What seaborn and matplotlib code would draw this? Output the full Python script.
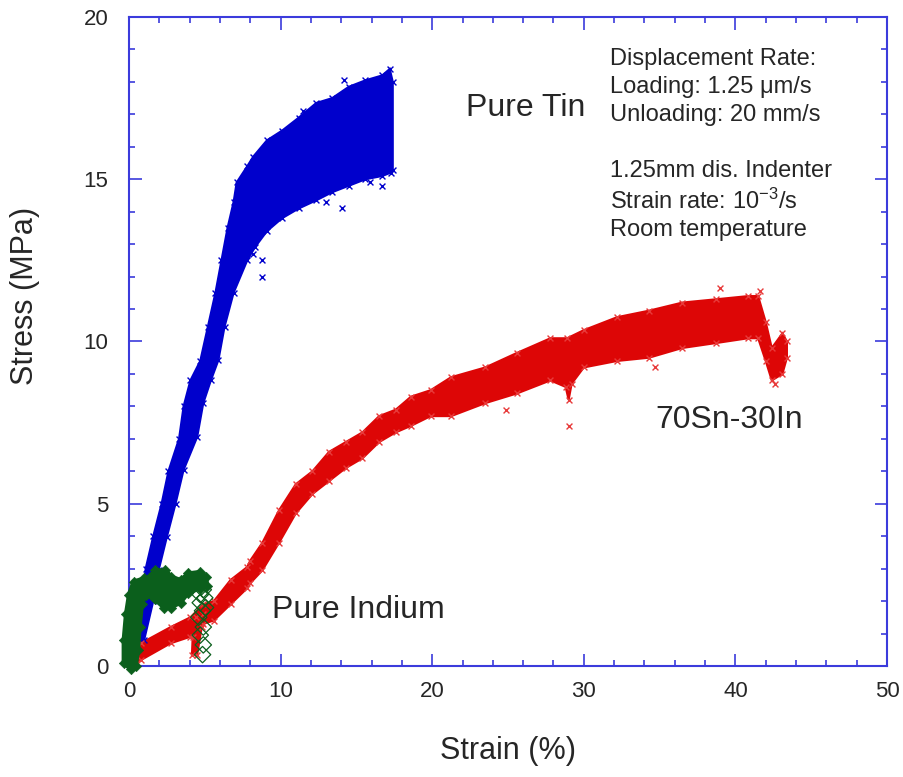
import matplotlib
matplotlib.use("Agg")
import matplotlib.pyplot as plt
from matplotlib.ticker import MultipleLocator
import pandas as pd
import seaborn as sns

# ---------------------------------------------------------------- data
# Pure tin: envelope of the scattered stress-strain cloud (strain %, stress MPa)
tin_upper_strain = [0.0, 0.6, 0.9, 1.1, 1.6, 2.15, 2.6, 3.3, 3.6, 4.05, 4.7, 5.2, 5.7,
                    6.1, 6.5, 6.9, 7.1, 7.8, 8.2, 9.1, 10.1, 11.2, 12.35, 13.4, 14.5,
                    15.6, 16.7, 17.2, 17.4]
tin_upper_stress = [0.0, 1.0, 2.0, 3.0, 4.0, 5.0, 6.0, 7.0, 8.0, 8.8, 9.4, 10.45, 11.5,
                    12.5, 13.5, 14.3, 14.9, 15.4, 15.7, 16.2, 16.5, 16.9, 17.35, 17.5,
                    17.85, 18.05, 18.2, 18.4, 18.0]
tin_lower_strain = [0.3, 1.0, 1.6, 1.96, 2.5, 3.07, 3.6, 4.5, 4.9, 5.4, 5.9, 6.3, 6.9,
                    7.8, 8.3, 9.1, 10.1, 11.2, 12.35, 13.4, 14.5, 15.6, 16.7, 17.25, 17.4]
tin_lower_stress = [0.0, 0.8, 2.0, 2.96, 3.98, 5.0, 6.04, 7.06, 8.1, 8.8, 9.43, 10.45,
                    11.5, 12.5, 12.9, 13.4, 13.8, 14.1, 14.35, 14.6, 14.8, 15.0, 15.1,
                    15.2, 15.3]
tin_stray_strain = [8.75, 8.75, 8.2, 14.05, 14.2, 11.45, 16.7, 15.9, 13.0]
tin_stray_stress = [12.5, 12.0, 12.7, 14.1, 18.05, 17.1, 14.8, 14.9, 14.3]

# 70Sn-30In
snin_upper_strain = [0.5, 0.78, 2.75, 4.05, 4.9, 5.6, 6.7, 7.8, 8.0, 8.8, 9.9, 11.0,
                     12.1, 13.2, 14.3, 15.4, 16.5, 17.6, 18.6, 19.9, 21.25, 23.5, 25.6,
                     27.8, 28.9, 30.0, 32.2, 34.3, 36.5, 38.7, 40.85, 41.5, 42.0, 42.4,
                     43.1, 43.4]
snin_upper_stress = [0.5, 0.7, 1.2, 1.5, 1.9, 2.0, 2.65, 3.05, 3.25, 3.8, 4.8, 5.6, 6.0,
                     6.6, 6.9, 7.2, 7.7, 7.9, 8.3, 8.5, 8.9, 9.2, 9.65, 10.1, 10.1,
                     10.35, 10.75, 10.95, 11.2, 11.3, 11.4, 11.4, 10.6, 9.8, 10.25, 10.0]
snin_lower_strain = [0.5, 0.78, 2.75, 4.05, 4.9, 5.6, 6.7, 7.8, 8.0, 8.8, 9.9, 11.0,
                     12.1, 13.2, 14.3, 15.4, 16.5, 17.6, 18.6, 19.9, 21.25, 23.5, 25.6,
                     27.8, 28.8, 29.0, 29.2, 30.0, 32.2, 34.3, 36.5, 38.7, 40.85, 41.5,
                     42.0, 42.4, 43.1, 43.4]
snin_lower_stress = [0.1, 0.18, 0.7, 0.9, 1.3, 1.4, 1.9, 2.4, 2.55, 2.95, 3.8, 4.7, 5.3,
                     5.7, 6.1, 6.4, 6.9, 7.2, 7.4, 7.7, 7.7, 8.1, 8.4, 8.8, 8.6, 8.2,
                     8.7, 9.2, 9.4, 9.5, 9.8, 9.95, 10.1, 10.1, 9.4, 8.8, 9.0, 9.5]
snin_reload_strain = [4.15, 4.5, 4.8, 4.85, 4.4, 4.2]
snin_reload_stress = [0.35, 0.35, 1.2, 1.6, 1.5, 0.9]
snin_stray_strain = [29.0, 39.0, 34.7, 24.9, 41.6, 42.6]
snin_stray_stress = [7.4, 11.65, 9.2, 7.9, 11.55, 8.7]

# Pure indium: outline of the loading cloud, then the unloading points
indium_outline_strain = [0.1, -0.35, -0.35, -0.2, 0.0, 0.3, 1.0, 1.4, 1.7, 2.4, 2.8, 3.4,
                         3.9, 4.7, 5.1, 5.15, 4.7, 3.9, 3.4, 2.75, 2.3, 1.7, 1.1, 0.85,
                         0.7, 0.6, 0.45]
indium_outline_stress = [-0.1, 0.1, 0.8, 1.6, 2.2, 2.6, 2.7, 2.75, 2.95, 2.95, 2.75,
                         2.65, 2.85, 2.9, 2.75, 2.45, 2.4, 2.25, 1.95, 1.8, 1.8, 2.05,
                         2.2, 1.9, 1.2, 0.5, 0.0]
indium_unload_strain = [4.85, 4.9, 4.7, 4.9, 4.6, 4.85, 4.7, 4.7, 4.9, 5.0, 4.8, 5.05]
indium_unload_stress = [0.35, 0.65, 0.95, 1.2, 1.5, 1.7, 1.95, 2.2, 2.35, 2.1, 2.45, 1.8]

info_lines = ["Displacement Rate:", "Loading: 1.25 \u03bcm/s", "Unloading: 20 mm/s", "",
              "1.25mm dis. Indenter", "Strain rate: 10$^{-3}$/s", "Room temperature"]

# ---------------------------------------------------------------- style
sns.set_style("ticks")
plt.rcParams["font.family"] = ["Liberation Sans", "DejaVu Sans"]
plt.rcParams["mathtext.fontset"] = "custom"
plt.rcParams["mathtext.rm"] = "Liberation Sans"
plt.rcParams["mathtext.it"] = "Liberation Sans:italic"
plt.rcParams["mathtext.bf"] = "Liberation Sans:bold"

FRAME = "#3b3bdc"
BLUE = "#0000cc"
RED = "#dd0606"
RED_EDGE = "#e83a3a"
GREEN = "#0b5f1c"

fig = plt.figure(figsize=(9.04, 7.77), dpi=100)
ax = fig.add_axes([0.1427, 0.1429, 0.9812 - 0.1427, 0.9781 - 0.1429])


def envelope(ux, uy, lx, ly):
    return ux + lx[::-1], uy + ly[::-1]


# pure tin
px, py = envelope(tin_upper_strain, tin_upper_stress, tin_lower_strain, tin_lower_stress)
ax.fill(px, py, color=BLUE, lw=1.5, zorder=2)
tin_pts = pd.DataFrame({"strain": px + tin_stray_strain, "stress": py + tin_stray_stress})
sns.scatterplot(data=tin_pts, x="strain", y="stress", marker="x", color=BLUE, s=18,
                linewidth=1.0, ax=ax, zorder=3, legend=False)

# 70Sn-30In
px, py = envelope(snin_upper_strain, snin_upper_stress, snin_lower_strain, snin_lower_stress)
ax.fill(px, py, color=RED, lw=1.5, zorder=2)
ax.fill(snin_reload_strain, snin_reload_stress, color=RED, lw=1.5, zorder=2)
snin_pts = pd.DataFrame({"strain": px + snin_reload_strain + snin_stray_strain,
                         "stress": py + snin_reload_stress + snin_stray_stress})
sns.scatterplot(data=snin_pts, x="strain", y="stress", marker="x", color=RED_EDGE, s=18,
                linewidth=1.0, ax=ax, zorder=3, legend=False)

# pure indium
ax.fill(indium_outline_strain, indium_outline_stress, color=GREEN, lw=3, zorder=4,
        clip_on=False)
sns.scatterplot(x=indium_outline_strain, y=indium_outline_stress, marker="D", color=GREEN,
                s=28, edgecolor=GREEN, ax=ax, zorder=4, legend=False, clip_on=False)
sns.scatterplot(x=indium_unload_strain, y=indium_unload_stress, marker="D",
                facecolor="none", edgecolor=GREEN, s=70, linewidth=0.9, ax=ax, zorder=5,
                legend=False)

# ---------------------------------------------------------------- axes
ax.set_xlim(0, 50)
ax.set_ylim(0, 20)
ax.xaxis.set_major_locator(MultipleLocator(10))
ax.xaxis.set_minor_locator(MultipleLocator(2))
ax.yaxis.set_major_locator(MultipleLocator(5))
ax.yaxis.set_minor_locator(MultipleLocator(1))
for sp in ax.spines.values():
    sp.set_color(FRAME)
    sp.set_linewidth(1.5)
    sp.set_visible(True)
ax.tick_params(which="both", direction="in", top=True, right=True, color=FRAME,
               width=1.2, labelsize=16, labelcolor="#262626")
ax.tick_params(which="major", length=9)
ax.tick_params(which="minor", length=4.5)
ax.tick_params(axis="x", pad=11)
ax.tick_params(axis="y", pad=15)
ax.set_xlabel("Strain (%)", fontsize=22, labelpad=24)
ax.set_ylabel("Stress (MPa)", fontsize=22)
ax.yaxis.set_label_coords(-0.118, 0.57)

# ---------------------------------------------------------------- labels
box = dict(facecolor="white", edgecolor="none", pad=9)
ax.text(22.2, 17.2, "Pure Tin", fontsize=23, va="center", ha="left", bbox=box, zorder=6)
ax.text(34.7, 7.58, "70Sn-30In", fontsize=23, va="center", ha="left", bbox=box, zorder=6)
ax.text(9.43, 1.73, "Pure Indium", fontsize=23, va="center", ha="left", bbox=box, zorder=6)
ax.text(31.7, 19.03, "\n".join(info_lines), fontsize=17, va="top", ha="left",
        linespacing=1.34, zorder=6)

fig.savefig("out.png", dpi=100)
